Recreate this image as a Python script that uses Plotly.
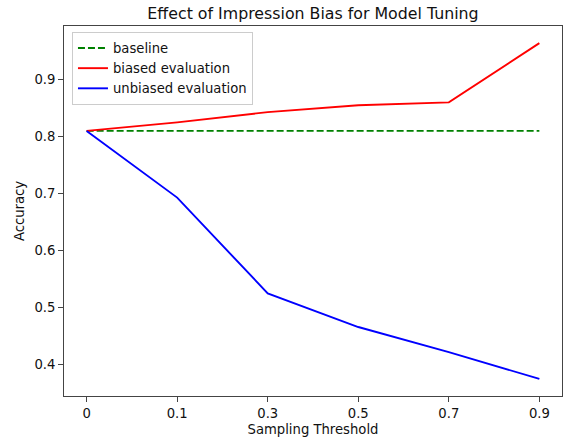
import plotly.graph_objects as go

thresholds = ["0", "0.1", "0.3", "0.5", "0.7", "0.9"]
baseline = [0.81, 0.81, 0.81, 0.81, 0.81, 0.81]
biased = [0.81, 0.825, 0.843, 0.855, 0.860, 0.964]
unbiased = [0.81, 0.693, 0.525, 0.466, 0.422, 0.375]
y_ticks = [0.4, 0.5, 0.6, 0.7, 0.8, 0.9]

xs = list(range(len(thresholds)))
fig = go.Figure()
fig.add_trace(go.Scatter(x=xs, y=baseline, mode="lines", name="baseline",
                         line=dict(color="green", width=1.9, dash="7px,3px")))
fig.add_trace(go.Scatter(x=xs, y=biased, mode="lines", name="biased evaluation",
                         line=dict(color="red", width=1.9)))
fig.add_trace(go.Scatter(x=xs, y=unbiased, mode="lines", name="unbiased evaluation",
                         line=dict(color="blue", width=1.9)))

axis_common = dict(showgrid=False, zeroline=False, showline=True, linecolor="#444",
                   linewidth=1, mirror=True, ticks="outside", ticklen=5,
                   tickcolor="#444", tickfont=dict(size=13.2, color="#111"))
fig.update_layout(
    width=566, height=441,
    margin=dict(l=64, r=4, t=26, b=45),
    paper_bgcolor="white", plot_bgcolor="white",
    font=dict(family="DejaVu Sans", color="#111"),
    title=dict(text="Effect of Impression Bias for Model Tuning",
               x=(64 + 562) / 2 / 566, xanchor="center",
               y=1 - 13/441, yanchor="middle", font=dict(size=15.8, color="#111")),
    xaxis=dict(range=[-0.25, 5.25], tickmode="array", tickvals=xs, ticktext=thresholds,
               title=dict(text="Sampling Threshold", font=dict(size=13.2), standoff=4),
               **axis_common),
    yaxis=dict(range=[0.345, 0.994], tickmode="array", tickvals=y_ticks,
               ticktext=[f"{v:.1f}" for v in y_ticks],
               title=dict(text="Accuracy", font=dict(size=13.2), standoff=6),
               **axis_common),
    legend=dict(x=0.016, y=0.984, xanchor="left", yanchor="top",
                bgcolor="rgba(255,255,255,0.8)", bordercolor="#ccc", borderwidth=1,
                font=dict(size=13.2, color="#111"), tracegroupgap=0),
)
fig.write_html("out.html", config={"displayModeBar": False},
               post_script="document.body.style.margin='0';")
